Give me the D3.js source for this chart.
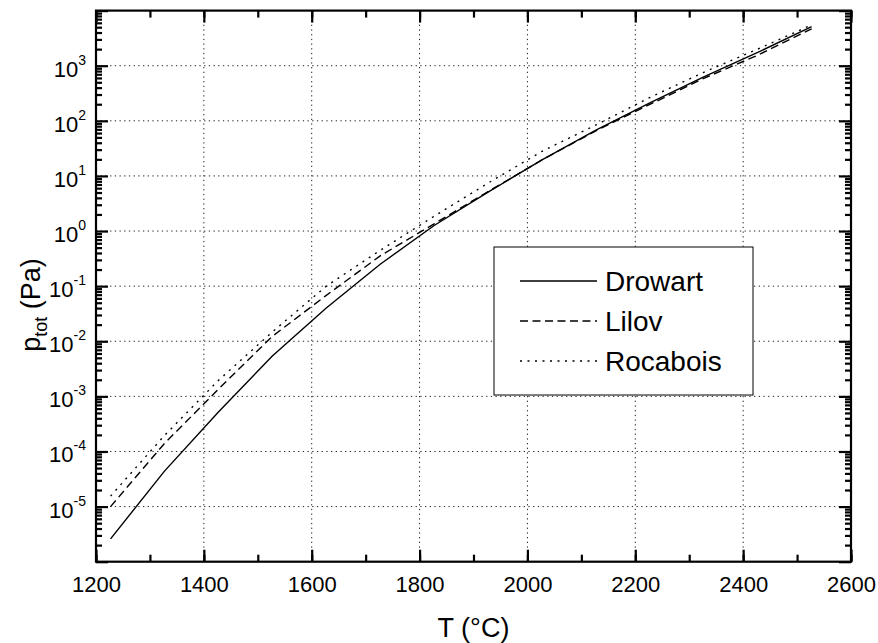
<!DOCTYPE html>
<html>
<head>
<meta charset="utf-8">
<script src="https://cdn.jsdelivr.net/npm/d3@7"></script>
<style>
  body { margin: 0; background: #fff; }
  svg text { font-family: "Liberation Sans", Arial, sans-serif; fill: #000; }
</style>
</head>
<body>
<svg id="chart" width="878" height="643"></svg>
<script>
// ---- data (temperatures in °C, total pressure in Pa) ----
const temperatures = [1227, 1327, 1427, 1527, 1627, 1727, 1827, 1927, 2027, 2127, 2227, 2327, 2427, 2527];
const drowart   = [2.6e-6, 4.4e-5, 5.2e-4, 5.4e-3, 0.040, 0.25, 1.26, 5.1, 19.5, 68, 211, 630, 1740, 5130];
const lilov     = [1.0e-5, 1.4e-4, 1.35e-3, 0.0123, 0.068, 0.355, 1.35, 5.2, 19.5, 66, 198, 590, 1550, 4680];
const rocabois  = [1.55e-5, 1.95e-4, 1.95e-3, 0.0148, 0.10, 0.447, 1.86, 7.4, 28, 84, 265, 760, 2000, 5500];
const seriesNames = ["Drowart", "Lilov", "Rocabois"];
const xTicks = [1200, 1400, 1600, 1800, 2000, 2200, 2400, 2600];
const yExponents = [-5, -4, -3, -2, -1, 0, 1, 2, 3];

const svg = d3.select("#chart");
const L = 96, R = 851, T = 10.6, B = 561.7;

const x = d3.scaleLinear().domain([1200, 2600]).range([L, R]);
const y = d3.scaleLog().domain([1e-6, 1e4]).range([B, T]);

const gridColor = "#222";
// grid lines
svg.append("g").selectAll("line").data(xTicks.slice(1, -1)).join("line")
  .attr("x1", d => x(d)).attr("x2", d => x(d)).attr("y1", T).attr("y2", B)
  .attr("stroke", gridColor).attr("stroke-width", 1).attr("stroke-dasharray", "1.3,3.4");
svg.append("g").selectAll("line").data(yExponents).join("line")
  .attr("x1", L).attr("x2", R).attr("y1", d => y(Math.pow(10, d))).attr("y2", d => y(Math.pow(10, d)))
  .attr("stroke", gridColor).attr("stroke-width", 1).attr("stroke-dasharray", "1.3,3.4");

// curves
const dashes = ["none", "8,4.5", "2,5.5"];
const allSeries = [drowart, lilov, rocabois];
const line = d3.line().x(d => x(d[0])).y(d => y(d[1]));
allSeries.forEach((vals, i) => {
  svg.append("path")
    .datum(temperatures.map((t, k) => [t, vals[k]]))
    .attr("d", line)
    .attr("fill", "none").attr("stroke", "#000").attr("stroke-width", 1.4)
    .attr("stroke-dasharray", dashes[i]);
});

// axes (ticks pointing inward)
const minorX = d3.range(1200, 2601, 100);
const xAxisB = d3.axisBottom(x).tickValues(minorX).tickSizeInner(-7).tickSizeOuter(0).tickFormat("");
const xAxisBMaj = d3.axisBottom(x).tickValues(xTicks).tickSizeInner(-12).tickSizeOuter(0).tickPadding(15).tickFormat(d3.format("d"));
const xAxisT = d3.axisTop(x).tickValues(minorX).tickSizeInner(-7).tickSizeOuter(0).tickFormat("");
const xAxisTMaj = d3.axisTop(x).tickValues(xTicks).tickSizeInner(-12).tickSizeOuter(0).tickFormat("");

const minorY = y.ticks(100).filter(v => { const e = Math.log10(v); return Math.abs(e - Math.round(e)) > 1e-9; });
const majorY = d3.range(-6, 5).map(e => Math.pow(10, e));
const yAxisL = d3.axisLeft(y).tickValues(minorY).tickSizeInner(-6).tickSizeOuter(0).tickFormat("");
const yAxisLMaj = d3.axisLeft(y).tickValues(majorY).tickSizeInner(-12).tickSizeOuter(0).tickFormat("");
const yAxisR = d3.axisRight(y).tickValues(minorY).tickSizeInner(-6).tickSizeOuter(0).tickFormat("");
const yAxisRMaj = d3.axisRight(y).tickValues(majorY).tickSizeInner(-12).tickSizeOuter(0).tickFormat("");

function styleAxis(g) {
  g.select(".domain").remove();
  g.selectAll(".tick line").attr("stroke", "#000").attr("stroke-width", 2.2);
  g.selectAll(".tick text").attr("font-size", 22).attr("font-family", "Liberation Sans, Arial, sans-serif").attr("fill", "#000");
}
svg.append("g").attr("transform", `translate(0,${B})`).call(xAxisB).call(styleAxis);
svg.append("g").attr("transform", `translate(0,${B})`).call(xAxisBMaj).call(styleAxis);
svg.append("g").attr("transform", `translate(0,${T})`).call(xAxisT).call(styleAxis);
svg.append("g").attr("transform", `translate(0,${T})`).call(xAxisTMaj).call(styleAxis);
svg.append("g").attr("transform", `translate(${L},0)`).call(yAxisL).call(styleAxis);
svg.append("g").attr("transform", `translate(${L},0)`).call(yAxisLMaj).call(styleAxis);
svg.append("g").attr("transform", `translate(${R},0)`).call(yAxisR).call(styleAxis);
svg.append("g").attr("transform", `translate(${R},0)`).call(yAxisRMaj).call(styleAxis);

// y tick labels with superscripts
const yl = svg.append("g").selectAll("text").data(yExponents).join("text")
  .attr("x", 86).attr("y", d => y(Math.pow(10, d)) + 11)
  .attr("text-anchor", "end").attr("font-size", 22);
yl.append("tspan").text("10");
yl.append("tspan").attr("dy", -12).attr("font-size", 14).text(d => String(d));

// frame
svg.append("rect").attr("x", L).attr("y", T).attr("width", R - L).attr("height", B - T)
  .attr("fill", "none").attr("stroke", "#000").attr("stroke-width", 2.2);

// axis titles
svg.append("text").attr("x", (L + R) / 2).attr("y", 636.7).attr("text-anchor", "middle")
  .attr("font-size", 27).text("T (°C)");
const yt = svg.append("text").attr("transform", "translate(40,305) rotate(-90)")
  .attr("text-anchor", "middle").attr("font-size", 27);
yt.append("tspan").text("p");
yt.append("tspan").attr("font-size", 18).attr("dy", 7).text("tot");
yt.append("tspan").attr("dy", -7).text(" (Pa)");

// legend
const lg = svg.append("g");
lg.append("rect").attr("x", 494).attr("y", 247).attr("width", 259).attr("height", 148)
  .attr("fill", "#fff").attr("stroke", "#000").attr("stroke-width", 1);
seriesNames.forEach((name, i) => {
  const ly = 281 + i * 40;
  lg.append("line").attr("x1", 520).attr("x2", 597).attr("y1", ly).attr("y2", ly)
    .attr("stroke", "#000").attr("stroke-width", 1.4).attr("stroke-dasharray", dashes[i]);
  lg.append("text").attr("x", 605).attr("y", ly + 10).attr("font-size", 28).text(name);
});
</script>
</body>
</html>
